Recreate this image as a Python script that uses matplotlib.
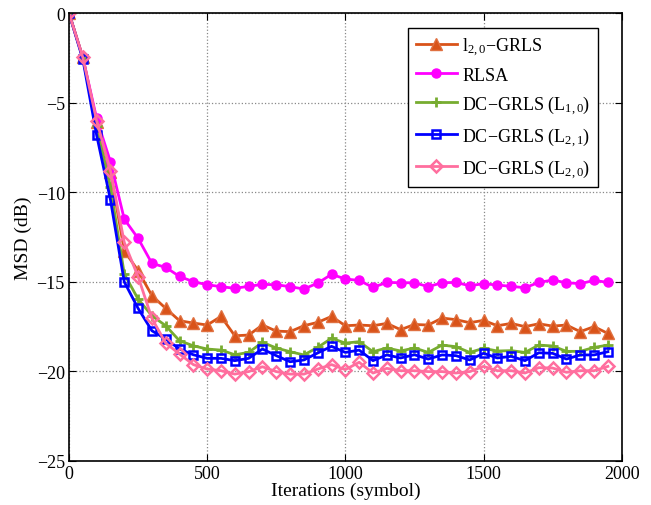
import numpy as np
import matplotlib
matplotlib.use("Agg")
import matplotlib.pyplot as plt

# iterations where the curves were sampled (every 50 symbols)
iters = np.arange(0, 2000, 50)

l20_grls = [0, -2.47, -6.06, -8.85, -13.26, -14.38, -15.77, -16.48, -17.17, -17.30,
            -17.41, -16.93, -18.01, -17.97, -17.41, -17.75, -17.78, -17.45, -17.26, -16.93,
            -17.45, -17.41, -17.45, -17.32, -17.67, -17.38, -17.41, -17.02, -17.11, -17.28,
            -17.15, -17.45, -17.32, -17.50, -17.34, -17.47, -17.41, -17.78, -17.50, -17.88]

rlsa = [0, -2.47, -5.88, -8.30, -11.50, -12.57, -13.97, -14.19, -14.70, -14.99,
        -15.16, -15.27, -15.36, -15.25, -15.14, -15.16, -15.27, -15.40, -15.07, -14.58,
        -14.84, -14.92, -15.31, -15.03, -15.05, -15.05, -15.27, -15.05, -15.03, -15.22,
        -15.10, -15.18, -15.25, -15.33, -15.03, -14.90, -15.05, -15.10, -14.92, -15.03]

dc_l10 = [0, -2.5, -6.3, -9.7, -14.56, -15.96, -16.89, -17.45, -18.29, -18.57,
          -18.75, -18.81, -19.07, -18.94, -18.38, -18.69, -18.90, -19.08, -18.66, -18.15,
          -18.42, -18.34, -18.90, -18.69, -18.86, -18.69, -18.94, -18.53, -18.62, -18.94,
          -18.71, -18.86, -18.84, -18.94, -18.53, -18.58, -18.88, -18.88, -18.66, -18.53]

dc_l21 = [0, -2.57, -6.81, -10.42, -15.0, -16.48, -17.73, -18.19, -18.75, -19.07,
          -19.27, -19.27, -19.40, -19.27, -18.75, -19.12, -19.46, -19.36, -18.97, -18.60,
          -18.94, -18.81, -19.40, -19.08, -19.25, -19.07, -19.31, -19.08, -19.12, -19.36,
          -18.99, -19.25, -19.16, -19.40, -18.96, -18.99, -19.31, -19.08, -19.08, -18.90]

dc_l20 = [0, -2.47, -6.0, -8.80, -12.80, -14.71, -17.04, -18.42, -19.03, -19.62,
          -19.87, -19.96, -20.15, -20.01, -19.74, -20.01, -20.15, -20.15, -19.87, -19.62,
          -19.90, -19.49, -20.09, -19.83, -19.96, -19.96, -20.01, -20.01, -20.09, -20.01,
          -19.72, -19.96, -19.96, -20.09, -19.79, -19.81, -20.05, -19.96, -19.96, -19.72]

plt.rcParams['font.family'] = ['Liberation Serif', 'DejaVu Serif']
plt.rcParams['mathtext.fontset'] = 'custom'
plt.rcParams['mathtext.rm'] = 'Liberation Serif'
plt.rcParams['mathtext.it'] = 'Liberation Serif'

fig = plt.figure(figsize=(6.51, 5.06), dpi=100)
ax = fig.add_axes([0.106, 0.087, 0.849, 0.885])

ax.plot(iters, l20_grls, color='#D95319', lw=2, marker='^', ms=8,
        mfc='#D95319', mec='#E07040', label=r'l$_{2,0}$$-$GRLS')
ax.plot(iters, rlsa, color='#FF00FF', lw=2, marker='o', ms=6.5,
        mfc='#FF00FF', mec='#FF00FF', label='RLSA')
ax.plot(iters, dc_l10, color='#77AC30', lw=2, marker='+', ms=6.5, mew=2,
        label=r'DC$-$GRLS (L$_{1,0}$)')
ax.plot(iters, dc_l21, color='#0000FF', lw=2, marker='s', ms=5.5, mew=1.8,
        mfc='none', mec='#0000FF', label=r'DC$-$GRLS (L$_{2,1}$)')
ax.plot(iters, dc_l20, color='#FF6E9E', lw=2, marker='D', ms=6, mew=1.8,
        mfc='none', mec='#FF6E9E', label=r'DC$-$GRLS (L$_{2,0}$)')

ax.set_xlim(0, 2000)
ax.set_ylim(-25, 0)
ax.set_xticks([0, 500, 1000, 1500, 2000])
ax.set_yticks([-25, -20, -15, -10, -5, 0])
ax.set_yticklabels(['\u221225', '\u221220', '\u221215', '\u221210', '\u22125', '0'])
ax.tick_params(direction='in', top=True, right=True, labelsize=13, length=5, pad=3)
ax.grid(True, linestyle=':', color='#888888', lw=0.9)
for s in ax.spines.values():
    s.set_linewidth(1.2)

ax.set_xlabel('Iterations (symbol)', fontsize=14, labelpad=0)
ax.set_ylabel('MSD (dB)', fontsize=14, labelpad=3)

leg = ax.legend(loc='upper right', bbox_to_anchor=(0.957, 0.966), borderaxespad=0,
                fontsize=13, fancybox=False, framealpha=1, edgecolor='black',
                handlelength=2.3, borderpad=0.4, labelspacing=0.5, handletextpad=0.3)
leg.get_frame().set_linewidth(1.0)

fig.savefig('out.png', dpi=100)
